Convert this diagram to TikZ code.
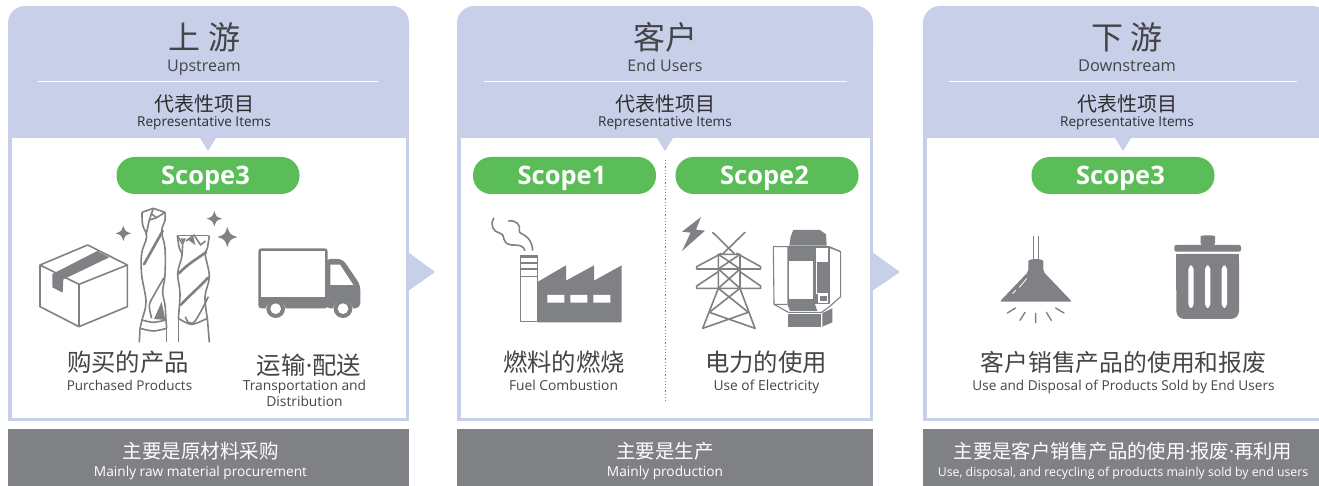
\documentclass[tikz,border=0pt]{standalone}
\usepackage{fontspec}
\setmainfont{Open Sans}
\newfontfamily\cjk{Noto Sans CJK SC}
\definecolor{hdr}{HTML}{C7D0E8}
\definecolor{gry}{HTML}{808184}
\definecolor{grn}{HTML}{5BBD58}
\definecolor{ink}{HTML}{444548}
\definecolor{dk}{HTML}{2E2E30}
\newcommand{\spark}[3]{\fill[gry] (#1-#3,#2) .. controls (#1-#3*.25,#2-#3*.25) .. (#1,#2-#3) .. controls (#1+#3*.25,#2-#3*.25) .. (#1+#3,#2) .. controls (#1+#3*.25,#2+#3*.25) .. (#1,#2+#3) .. controls (#1-#3*.25,#2+#3*.25) .. cycle;}
\newcommand{\nd}{{\normalfont ·}}
\newcommand{\scopetxt}[1]{\hspace*{-5pt}#1}
\tikzset{
 zh/.style={font=\cjk\fontsize{#1}{#1}\selectfont,inner sep=0pt,text=ink},
 en/.style={font=\fontsize{#1}{#1}\selectfont,inner sep=0pt,text=ink,anchor=base},
 pill/.style={fill=grn,rounded corners=18pt,minimum width=183pt,minimum height=37pt,inner sep=0pt,text=white,text depth=0pt,font=\fontsize{25.5}{25.5}\selectfont\bfseries},
 ic/.style={draw=gry,line width=1.6pt,line join=round},
 band/.style={draw=gry,line width=2.6pt,line cap=round},
 zm/.style={x=1/3*1pt,y=-1/3*1pt},
}
\begin{document}
\begin{tikzpicture}[x=1pt,y=-1pt]
\useasboundingbox (0,0) rectangle (1319,486);
\fill[white] (0,0) rectangle (1319,486);
\begin{scope}
\clip (0,0) rectangle (1319,486);
% panels
\foreach \l/\r/\cx in {8/409/208,457/873/665,923/1329/1123}{
 \fill[hdr,rounded corners=17pt] (\l,6) -- (\r,6) -- (\r,60) -- (\l,60) -- cycle;
 \fill[hdr] (\l,40) rectangle (\r,421);
 \fill[white] (\l+3.5,138) rectangle (\r-3.5,417.5);
 \fill[hdr] (\cx-8,138) -- (\cx+8,138) -- (\cx,151) -- cycle;
 \fill[gry] (\l,429) rectangle (\r,486);
}
\end{scope}
\fill[hdr] (408,252) -- (435,272) -- (408,291) -- cycle;
\fill[hdr] (872,252) -- (900,272) -- (872,291) -- cycle;
\draw[white,line width=1pt] (38,81.5) -- (378,81.5) (484,81.5) -- (847,81.5) (949,81.5) -- (1297,81.5);
\draw[gry,line width=1.2pt,dotted] (665.5,160) -- (665.5,403);
% heads
\node[zh=32] (t1) at (204.5,37.5) {上 游};
\node[en=16] (t1e) at (204,71.5) {Upstream};
\node[zh=32] (t2) at (665,37.5) {客户};
\node[en=16] (t2e) at (665,71.5) {End Users};
\node[zh=32] (t3) at (1127,37.5) {下 游};
\node[en=16.4] (t3e) at (1127,71.5) {Downstream};
\foreach \n/\cx in {a/204,b/665,c/1127}{
 \node[zh=20,text=dk] (r\n) at (\cx,104) {代表性项目};
 \node[en=13.6,text=dk] (e\n) at (\cx,127) {Representative Items};
}
\node[pill] (s1) at (208,175.5) {\scopetxt{Scope3}};
\node[pill] (s2) at (564.5,175.5) {\scopetxt{Scope1}};
\node[pill] (s3) at (767,175.5) {\scopetxt{Scope2}};
\node[pill] (s4) at (1123,175.5) {\scopetxt{Scope3}};
% labels
\node[zh=24.4] (l1) at (128,362) {购买的产品};
\node[en=13.5] (l1e) at (129.5,390) {Purchased Products};
\node[zh=24.4] (l2) at (309,365) {运输\nd 配送};
\node[en=13.8] (l2e) at (304.5,390) {Transportation and};
\node[en=13.8] (l2f) at (304.5,406) {Distribution};
\node[zh=24.4] (l3) at (564,362) {燃料的燃烧};
\node[en=13.8] (l3e) at (563.5,390) {Fuel Combustion};
\node[zh=24.4] (l4) at (766,362) {电力的使用};
\node[en=13.8] (l4e) at (766.5,390) {Use of Electricity};
\node[zh=23.8] (l5) at (1123.5,362) {客户销售产品的使用和报废};
\node[en=13.6] (l5e) at (1123.5,390) {Use and Disposal of Products Sold by End Users};
% bottoms
\node[zh=19.5,text=white] (b1) at (200.5,451.5) {主要是原材料采购};
\node[en=13.7,text=white] (b1e) at (200.5,476) {Mainly raw material procurement};
\node[zh=19.5,text=white] (b2) at (665,451.5) {主要是生产};
\node[en=13.7,text=white] (b2e) at (665,476) {Mainly production};
\node[zh=19.3,text=white] (b3) at (1123,451.5) {主要是客户销售产品的使用\nd 报废\nd 再利用};
\node[en=12.3,text=white] (b3e) at (1123,476) {Use, disposal, and recycling of products mainly sold by end users};
% ---- icons panel 1
\begin{scope}[shift={(0,190)},zm]
 % box
 \draw[ic] (120,225) -- (263,165) -- (382,225) -- (237,283) -- cycle;
 \draw[ic] (120,225) -- (120,350) -- (237,410) -- (382,350) -- (382,225) (237,283) -- (237,410);
 \fill[gry] (157,252) -- (292,183) -- (328,202) -- (190,268) -- (188,308) -- (157,292) -- cycle;
 % sparkles
 \spark{370}{130}{23}
 \spark{643}{86}{23}
 \spark{682}{141}{30}
 % truck
 \fill[gry,rounded corners=3pt] (775,175) rectangle (983,355);
 \fill[gry,rounded corners=5pt] (975,207) -- (1028,207) -- (1081,285) -- (1081,355) -- (975,355) -- cycle;
 \fill[white] (783,183) rectangle (975,322);
 \fill[white] (991,224) -- (1020,224) -- (1060,285) -- (991,285) -- cycle;
 \fill[white] (827,360) circle[radius=30];
 \fill[white] (1029,360) circle[radius=30];
 \fill[gry] (827,356) circle[radius=28];
 \fill[gry] (1029,356) circle[radius=28];
 \fill[white] (827,356) circle[radius=16];
 \fill[white] (1029,356) circle[radius=16];
\end{scope}
% drills
\begin{scope}[shift={(130,205)},zm]
 % drill 1
 \draw[ic] plot[smooth,tension=.6] coordinates {(36,22) (38,60) (50,95) (35,145) (35,210) (48,290) (36,345) (30,370)};
 \draw[ic] (30,370) -- (28,412);
 \draw[ic] plot[smooth,tension=.6] coordinates {(105,22) (105,45) (95,80) (105,130) (105,210) (98,260) (105,300) (108,345) (110,370)};
 \draw[ic] (110,370) -- (110,412);
 \draw[ic] (36,22) -- (70,10) -- (105,22) -- (80,38) -- (58,45) -- (48,90);
 \draw[ic] (70,10) -- (58,45) (62,25) -- (80,38);
 \draw[band] (42,178) -- (98,78);
 \draw[ic] plot[smooth] coordinates {(65,340) (58,300) (75,265) (102,218)};
 \fill[gry] (95,290) -- (106,345) -- (72,342) -- cycle;
 \draw[ic] plot[smooth] coordinates {(36,345) (70,352) (108,345)};
 \draw[ic] plot[smooth] coordinates {(30,370) (70,378) (110,370)};
 % drill 2
 \draw[ic] plot[smooth,tension=.6] coordinates {(142,92) (148,130) (156,152) (143,205) (150,265) (145,340)};
 \draw[ic] (145,340) -- (145,412);
 \draw[ic] plot[smooth,tension=.6] coordinates {(238,92) (232,130) (226,150) (238,215) (225,275) (232,340)};
 \draw[ic] (232,340) -- (238,412);
 \draw[ic] (142,92) -- (238,92);
 \draw[ic] (142,92) -- (158,118) -- (156,152) (168,108) -- (192,90) -- (212,120) -- (226,108);
 \fill[gry] (152,100) -- (168,100) -- (160,118) -- cycle;
 \fill[gry] (175,105) -- (190,95) -- (196,120) -- cycle;
 \draw[band] (147,205) .. controls (170,180) and (195,165) .. (228,142);
 \draw[band] (152,300) .. controls (180,270) and (210,245) .. (234,218);
 \draw[ic] plot[smooth] coordinates {(166,335) (175,352) (192,352) (215,315) (235,275)};
 \draw[ic] plot[smooth] coordinates {(145,340) (185,358) (232,340)};
\end{scope}
% ---- icons panel 2
\begin{scope}[shift={(450,190)},zm]
 % smoke
 \draw[ic] (132,84) .. controls (118,105) and (130,125) .. (150,130) .. controls (170,135) and (150,160) .. (185,165) .. controls (205,165) and (220,165) .. (225,182);
 \draw[ic] (175,93) .. controls (200,90) and (212,105) .. (208,122) .. controls (205,135) and (245,130) .. (248,182);
 % chimney
 \draw[ic,fill=white,line width=1pt] (212,198) rectangle (262,396);
 \fill[gry] (212,198) rectangle (262,204);
 \fill[gry] (212,216) rectangle (262,222);
 \fill[gry] (212,234) rectangle (262,240);
 \fill[gry] (212,258) rectangle (262,261);
 \fill[gry] (264,275) -- (348,226) -- (348,272) -- (432,226) -- (432,272) -- (515,226) -- (515,397) -- (264,397) -- cycle;
 \fill[white] (292,315) rectangle (343,338) (361,315) rectangle (412,338) (430,315) rectangle (481,338);
 % bolt
 \fill[gry] (753,81) -- (696,125) -- (722,128) -- (696,183) -- (765,122) -- (738,119) -- cycle;
\end{scope}
% tower
\begin{scope}[shift={(690,225)},zm,ic,line cap=round]
 \draw (68,22) -- (132,85) (165,22) -- (100,85) (85,88) -- (150,88);
 \draw (85,88) -- (85,190) -- (38,310) (150,88) -- (150,190) -- (195,310);
 \draw (95,85) -- (20,125) -- (20,132) -- (212,132) -- (212,125) -- (140,85);
 \draw (85,140) -- (20,183) -- (20,190) -- (212,190) -- (212,183) -- (150,140);
 \draw (85,88) -- (150,132) (150,88) -- (85,132) (85,132) -- (150,190) (150,132) -- (85,190);
 \draw (85,190) -- (175,262) (150,190) -- (58,262) (58,262) -- (195,310) (175,262) -- (38,310);
\end{scope}
% transformer
\begin{scope}[shift={(770,225)},zm]
 \draw[ic,line width=1.1pt] (10,65) -- (178,65) -- (212,80) -- (212,215) -- (178,245) -- (155,262) -- (55,262) -- (12,238) -- cycle;
 \fill[gry] (70,15) -- (150,15) -- (168,28) -- (170,62) -- (58,62) -- (62,35) -- cycle;
 \fill[gry] (52,65) -- (135,65) -- (135,238) -- (142,258) -- (60,258) -- (52,238) -- cycle;
 \fill[white] (58,107) rectangle (130,222);
 \draw[ic,line width=1.1pt] (135,67) rectangle (177,236);
 \fill[gry] (141,110) rectangle (177,205);
 \fill[gry] (150,213) rectangle (170,227);
 \draw[ic,line width=1.1pt] (141,208) -- (141,236);
 \draw[ic,line width=1.1pt] (12,238) -- (52,238) (177,67) -- (212,80);
 \fill[gry] (53,267) rectangle (153,305);
 \fill[gry] (157,264) -- (187,250) -- (187,292) -- (157,305) -- cycle;
\end{scope}
% ---- icons panel 3
\begin{scope}[shift={(900,190)},zm]
 \draw[gry,line width=1pt] (399,138) -- (399,210) (415,138) -- (415,210);
 \fill[gry,rounded corners=2pt] (299,335) -- (385,245) -- (385,220) .. controls (385,205) and (430,205) .. (430,220) -- (430,245) -- (516,335) -- cycle;
 \draw[white,line width=.8pt,line cap=round] (358,292) -- (380,266) (338,311) -- (347,301);
 \draw[gry,line width=1.4pt,line cap=round] (322,369) -- (347,354) (360,391) -- (375,367) (407,398) -- (407,370) (454,391) -- (439,367) (492,369) -- (467,354);
 % bin
 \fill[gry,rounded corners=3pt] (902,168) -- (902,148) .. controls (902,135) and (945,135) .. (945,148) -- (945,168) -- cycle;
 \fill[gry,rounded corners=2pt] (823,165) rectangle (1023,185);
 \fill[gry,rounded corners=8pt] (829,192) -- (1017,192) -- (1017,387) -- (829,387) -- cycle;
 \fill[gry] (829,192) rectangle (1017,300);
 \foreach \x in {873,923,973}{\fill[white,rounded corners=4pt] (\x-8,226) rectangle (\x+8,354);}
\end{scope}
\end{tikzpicture}
\end{document}
